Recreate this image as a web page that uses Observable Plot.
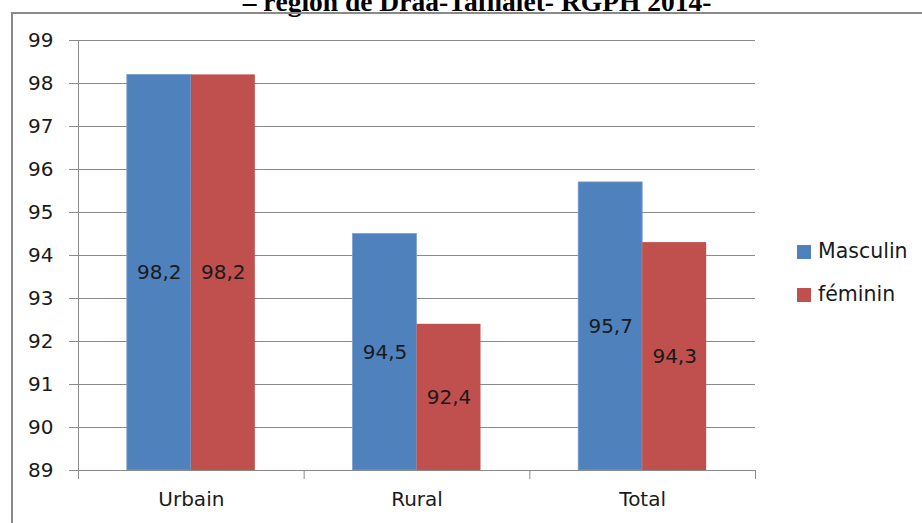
<!DOCTYPE html>
<html><head><meta charset="utf-8">
<script src="https://cdn.jsdelivr.net/npm/d3@7"></script>
<script src="https://cdn.jsdelivr.net/npm/@observablehq/plot@0.6"></script>
<style>
body{margin:0;background:#fff;}
#wrap{position:relative;width:922px;height:523px;overflow:hidden;font-family:"DejaVu Sans",sans-serif;background:#fff;}
#frame{position:absolute;left:11px;top:12px;width:1000px;height:600px;border-left:2px solid #8a8a8a;border-top:2px solid #8a8a8a;}
#title{position:absolute;left:0;width:954px;text-align:center;top:-12px;font-family:"Liberation Serif",serif;font-weight:bold;font-size:27.5px;line-height:27px;color:#000;white-space:nowrap;}
#chart{position:absolute;left:0;top:0;}
.leg{position:absolute;left:797px;font-size:20.5px;color:#1a1a1a;line-height:20px;white-space:nowrap;}
.leg span{display:inline-block;width:14px;height:14px;margin-right:7px;vertical-align:-1px;}
</style>
</head><body>
<div id="wrap">
  <div id="title">– région de Drâa-Tafilalet- RGPH 2014-</div>
  <div id="frame"></div>
  <div id="chart"></div>
  <div id="legend"></div>
</div>
<script>
const categories = ["Urbain", "Rural", "Total"];
const series = ["Masculin", "féminin"];
const masculin = [98.2, 94.5, 95.7];
const feminin = [98.2, 92.4, 94.3];
const yTicks = [89, 90, 91, 92, 93, 94, 95, 96, 97, 98, 99];
const colors = ["#4F81BD", "#C0504D"];

const W = 922, H = 523;
const mL = 78, mR = 167, mT = 40, mB = 53;
const band = (W - mL - mR) / categories.length;
const half = band / 2;
const barW = 64;
const outer = half - barW;

const dataM = categories.map((c, i) => ({cat: c, v: masculin[i]}));
const dataF = categories.map((c, i) => ({cat: c, v: feminin[i]}));
const fmt = v => v.toFixed(1).replace(".", ",");
const grid = "#8a8a8a";
const base = yTicks[0];

const chart = Plot.plot({
  width: W, height: H,
  marginLeft: mL, marginRight: mR, marginTop: mT, marginBottom: mB,
  style: {fontFamily: "DejaVu Sans, sans-serif", background: "transparent", color: "#1a1a1a"},
  x: {domain: categories, padding: 0, round: false, label: null},
  y: {domain: [yTicks[0], yTicks[yTicks.length - 1]], label: null},
  marks: [
    Plot.gridY(yTicks, {stroke: grid, strokeOpacity: 1}),
    Plot.barY(dataM, {x: "cat", y1: base, y2: "v", fill: colors[0], stroke: "#7ba0d0", strokeWidth: 0.8, insetLeft: outer, insetRight: half}),
    Plot.barY(dataF, {x: "cat", y1: base, y2: "v", fill: colors[1], insetLeft: half, insetRight: outer}),
    Plot.ruleX([categories[0]], {x: d => d, y1: yTicks[yTicks.length - 1], y2: base, dx: -half, insetBottom: -9, stroke: grid}),
    Plot.ruleX(categories, {x: d => d, y1: base, y2: base, dx: half, insetBottom: -9, stroke: grid}),
    Plot.ruleY([base], {stroke: grid}),
    Plot.axisY(yTicks, {tickSize: 9, tickPadding: 16, stroke: grid, fill: "#1a1a1a", fontSize: 20, tickFormat: d => String(d)}),
    Plot.axisX({tickSize: 0, tickPadding: 21, fill: "#1a1a1a", fontSize: 20}),
    Plot.text(dataM, {x: "cat", y: d => (base + d.v) / 2, text: d => fmt(d.v), dx: -barW / 2, fontSize: 20, fill: "#1a1a1a"}),
    Plot.text(dataF, {x: "cat", y: d => (base + d.v) / 2, text: d => fmt(d.v), dx: barW / 2, fontSize: 20, fill: "#1a1a1a"})
  ]
});
document.getElementById("chart").appendChild(chart);

const leg = document.getElementById("legend");
series.forEach((s, i) => {
  const d = document.createElement("div");
  d.className = "leg";
  d.style.top = (241 + i * 43) + "px";
  d.innerHTML = `<span style="background:${colors[i]}"></span>${s}`;
  leg.appendChild(d);
});
</script>
</body></html>
